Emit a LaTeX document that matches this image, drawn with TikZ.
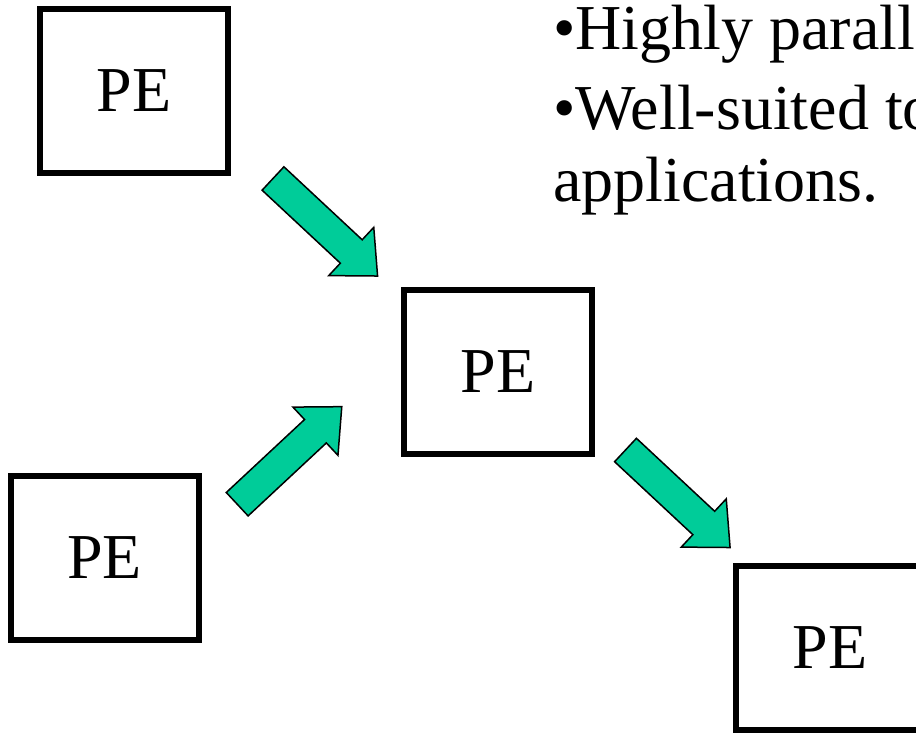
\documentclass[tikz,border=0pt]{standalone}
\usepackage{fontspec}
\setmainfont{Liberation Serif}
\begin{document}
\begin{tikzpicture}[x=1pt,y=-1pt,
  pebox/.style={draw=black, line width=6pt, fill=white, minimum width=188pt,
    minimum height=164pt, inner sep=0pt, font=\fontsize{64pt}{64pt}\selectfont},
  bullettext/.style={anchor=base west, inner sep=0pt, font=\fontsize{64pt}{70pt}\selectfont},
  arrowbody/.style={draw=black, line width=1.5pt, line join=miter, fill=arrowgreen},
  flowarrow/.pic={
    \path[arrowbody] (0,-16) -- (107,-16) -- (107,-33) -- (143,0)
      -- (107,33) -- (107,16) -- (0,16) -- cycle;
  }]
\definecolor{arrowgreen}{RGB}{0,204,153}
\useasboundingbox (0,0) rectangle (916,733);
\clip (0,0) rectangle (916,733);

% processing elements
\node[pebox] (pe1) at (134,90.7) {PE};
\node[pebox] (pe2) at (498,371.7) {PE};
\node[pebox] (pe3) at (104.5,558) {PE};
\node[pebox] (pe4) at (830.3,648) {PE};

% tails of the data-flow arrows
\coordinate (a1) at (273,178.5);
\coordinate (a2) at (237.2,504.2);
\coordinate (a3) at (625.5,450);

\pic[rotate=-43] at (a1) {flowarrow};
\pic[rotate=43] at (a2) {flowarrow};
\pic[rotate=-43] at (a3) {flowarrow};

% bullet points
\node[bullettext] (t1) at (553,50) {•Highly parall};
\node[bullettext] (t2) at (553,130) {•Well-suited to};
\node[bullettext] (t3) at (553,201) {applications.};
\end{tikzpicture}
\end{document}
